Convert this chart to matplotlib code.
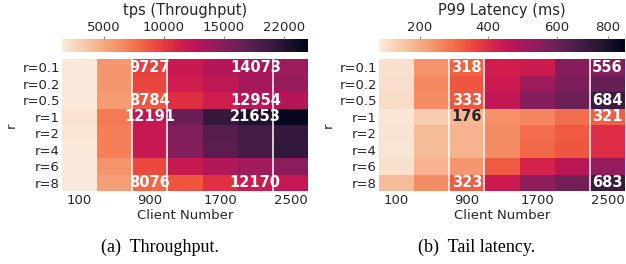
import numpy as np
import matplotlib
matplotlib.use('Agg')
import matplotlib.pyplot as plt
import seaborn as sns

# ---------------- data ----------------
clients = ['100', '500', '900', '1300', '1700', '2100', '2500']
ratios = ['r=0.1', 'r=0.2', 'r=0.5', 'r=1', 'r=2', 'r=4', 'r=6', 'r=8']

tps = [
    [1700, 5900, 9727, 11900, 12900, 13400, 14073],
    [1650, 5900, 9500, 11600, 12400, 13600, 14300],
    [1700, 5700, 8784, 10500, 11600, 12600, 12954],
    [2100, 7300, 12191, 16500, 19200, 20300, 21653],
    [1800, 7000, 12000, 15200, 17400, 18400, 19200],
    [1750, 7000, 12000, 15200, 17300, 18400, 19300],
    [1700, 6100, 9300, 11900, 13000, 13800, 14800],
    [1650, 5600, 8076, 8800, 10400, 11700, 12170],
]

lat = [
    [100, 240, 318, 430, 440, 560, 556],
    [105, 255, 335, 440, 520, 575, 610],
    [110, 250, 333, 455, 560, 600, 684],
    [90, 140, 176, 245, 260, 300, 321],
    [95, 170, 185, 250, 300, 330, 400],
    [92, 170, 185, 250, 310, 335, 400],
    [100, 185, 235, 330, 420, 470, 530],
    [170, 250, 323, 440, 540, 590, 683],
]

note_rows = [0, 2, 3, 7]
note_cols = [2, 6]

tps_cbar_ticks = [5000, 10000, 15000, 20000]
tps_cbar_labels = ['5000', '10000', '15000', '22000']
lat_cbar_ticks = [200, 400, 600, 750]
lat_cbar_labels = ['200', '400', '600', '800']

xtick_cols = [0, 2, 4, 6]

# ---------------- figure ----------------
W, H = 626, 264
fig = plt.figure(figsize=(W / 100, H / 100), dpi=100)
plt.rcParams['font.family'] = ['DejaVu Sans']
cmap = sns.color_palette('rocket_r', as_cmap=True)
txt = '#262626'
fs = 9.5


def px(x0, y0, x1, y1):
    return [x0 / W, 1 - y1 / H, (x1 - x0) / W, (y1 - y0) / H]


def panel(hx0, hx1, data, vmin, vmax, title, cticks, clabels, note_shift,
          note_colors, caption, ylab_x):
    ax = fig.add_axes(px(hx0, 59, hx1, 191))
    arr = np.array(data, dtype=float)
    mesh = ax.pcolormesh(np.arange(arr.shape[1] + 1), np.arange(arr.shape[0] + 1),
                         arr, cmap=cmap, vmin=vmin, vmax=vmax,
                         edgecolors='face', linewidth=0)
    ax.set_xlim(0, arr.shape[1])
    ax.set_ylim(arr.shape[0], 0)
    for s in ax.spines.values():
        s.set_visible(False)
    ax.set_yticks(np.arange(arr.shape[0]) + 0.5)
    ax.set_yticklabels(ratios, fontsize=fs, color=txt)
    ax.set_xticks(np.array(xtick_cols) + 0.5)
    ax.set_xticklabels([clients[c] for c in xtick_cols], fontsize=fs, color=txt)
    ax.tick_params(axis='y', length=0, pad=1.5)
    ax.tick_params(axis='x', length=0, pad=2.5)
    ax.set_xlabel('Client Number', fontsize=fs, color=txt, labelpad=1)
    fig.text(ylab_x / W, 1 - 125 / H, 'r', rotation=90, fontsize=fs, color=txt,
             ha='center', va='center')
    for xv in [2, 3, 6]:
        ax.axvline(xv, color='white', lw=1.1)
    for r in note_rows:
        for c in note_cols:
            shown = c + note_shift.get(c, 0)
            col = note_colors.get((r, c), 'white')
            ax.text(shown + 0.5, r + 0.5, f'{int(arr[r, c])}', ha='center',
                    va='center', fontsize=10.5, fontweight='bold', color=col)
    cax = fig.add_axes(px(hx0, 39.5, hx1, 51.7))
    cb = fig.colorbar(mesh, cax=cax, orientation='horizontal')
    cb.outline.set_visible(False)
    cax.xaxis.set_ticks_position('top')
    cb.set_ticks(cticks)
    cb.set_ticklabels(clabels)
    cax.tick_params(labelsize=fs, labelcolor=txt, length=2, width=0.6,
                    color='#777777', pad=2)
    fig.text((hx0 + hx1) / 2 / W, 1 - 11 / H, title, fontsize=10.5, color=txt,
             ha='center', va='center')
    fig.text(caption[1] / W, 1 - 247 / H, caption[0], fontsize=13,
             family='Liberation Serif', ha='center', va='center', color='black')


panel(62, 308, tps, 1550, 22000, 'tps (Throughput)', tps_cbar_ticks,
      tps_cbar_labels, {6: -1}, {}, ('(a)  Throughput.', 160), 11)
panel(379, 625, lat, 80, 800, 'P99 Latency (ms)', lat_cbar_ticks,
      lat_cbar_labels, {}, {(3, 2): txt}, ('(b)  Tail latency.', 477), 328)

fig.savefig('out.png', dpi=100)
